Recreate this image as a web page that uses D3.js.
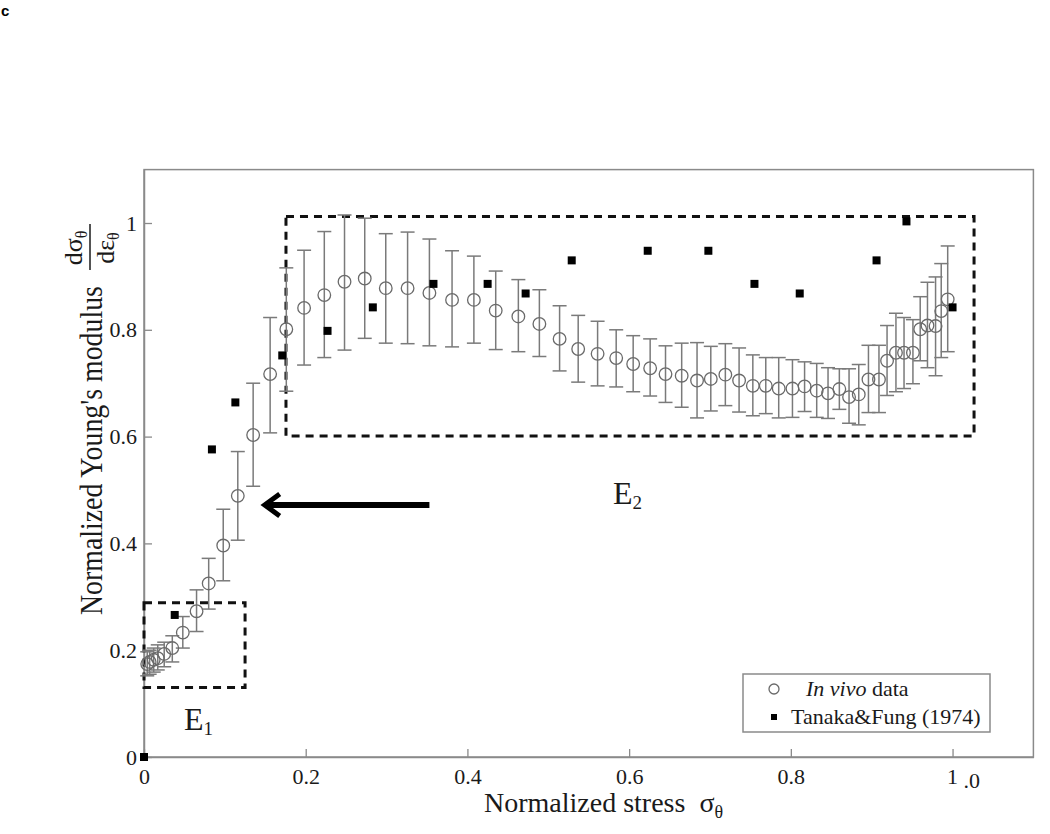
<!DOCTYPE html>
<html>
<head>
<meta charset="utf-8">
<script src="https://cdn.jsdelivr.net/npm/d3@7"></script>
<style>
  html, body { margin: 0; padding: 0; background: #fff; }
  svg { display: block; }
  text { font-family: "Liberation Serif", "Times New Roman", serif; fill: #1a1a1a; }
</style>
</head>
<body>
<svg id="chart" width="1050" height="834"></svg>
<script>
// ---------------- data ----------------
const xInVivo = [0.004, 0.007, 0.012, 0.017, 0.025, 0.035, 0.048, 0.065, 0.080, 0.098,
  0.116, 0.135, 0.156, 0.176, 0.198, 0.223, 0.248, 0.273, 0.299, 0.326,
  0.353, 0.381, 0.408, 0.435, 0.463, 0.489, 0.514, 0.537, 0.561, 0.584,
  0.605, 0.626, 0.645, 0.665, 0.684, 0.701, 0.719, 0.736, 0.753, 0.769,
  0.785, 0.802, 0.817, 0.832, 0.846, 0.860, 0.872, 0.884, 0.896, 0.909,
  0.919, 0.930, 0.940, 0.951, 0.960, 0.969, 0.979, 0.986, 0.994];
const yInVivo = [0.174, 0.178, 0.182, 0.185, 0.193, 0.204, 0.233, 0.273, 0.325, 0.396,
  0.489, 0.603, 0.717, 0.801, 0.841, 0.865, 0.890, 0.896, 0.878, 0.878,
  0.869, 0.856, 0.856, 0.836, 0.825, 0.811, 0.783, 0.764, 0.755, 0.747,
  0.736, 0.728, 0.717, 0.714, 0.705, 0.708, 0.716, 0.705, 0.695, 0.695,
  0.690, 0.690, 0.694, 0.686, 0.681, 0.689, 0.674, 0.679, 0.707, 0.707,
  0.742, 0.757, 0.757, 0.757, 0.801, 0.808, 0.807, 0.835, 0.857];
const yInVivoHigh = [0.197, 0.200, 0.204, 0.210, 0.215, 0.227, 0.263, 0.313, 0.372, 0.464,
  0.572, 0.700, 0.823, 0.916, 0.949, 0.984, 1.015, 1.009, 0.980, 0.983,
  0.970, 0.948, 0.938, 0.910, 0.894, 0.875, 0.845, 0.827, 0.816, 0.800,
  0.789, 0.783, 0.770, 0.775, 0.776, 0.769, 0.774, 0.766, 0.753, 0.748,
  0.748, 0.744, 0.740, 0.737, 0.729, 0.727, 0.727, 0.735, 0.771, 0.771,
  0.808, 0.831, 0.823, 0.819, 0.862, 0.889, 0.899, 0.924, 0.957];
const yInVivoLow = [0.152, 0.155, 0.159, 0.163, 0.169, 0.178, 0.204, 0.235, 0.277, 0.330,
  0.406, 0.507, 0.607, 0.685, 0.734, 0.748, 0.762, 0.784, 0.775, 0.774,
  0.770, 0.768, 0.775, 0.763, 0.759, 0.750, 0.723, 0.702, 0.695, 0.693,
  0.684, 0.676, 0.664, 0.655, 0.635, 0.648, 0.658, 0.646, 0.639, 0.643,
  0.635, 0.636, 0.647, 0.636, 0.634, 0.651, 0.625, 0.622, 0.645, 0.645,
  0.677, 0.684, 0.690, 0.699, 0.742, 0.729, 0.714, 0.748, 0.759];

const xTanaka = [0.000, 0.038, 0.084, 0.113, 0.171, 0.227, 0.283, 0.358, 0.425, 0.472,
  0.529, 0.623, 0.698, 0.755, 0.811, 0.906, 0.943, 1.000];
const yTanaka = [0.000, 0.266, 0.576, 0.664, 0.752, 0.798, 0.842, 0.886, 0.886, 0.868,
  0.930, 0.948, 0.948, 0.886, 0.868, 0.930, 1.003, 0.842];

const xTicks = [0, 0.2, 0.4, 0.6, 0.8, 1.0];
const xTickLabels = ["0", "0.2", "0.4", "0.6", "0.8", "1 .0"];
const yTicks = [0, 0.2, 0.4, 0.6, 0.8, 1.0];
const yTickLabels = ["0", "0.2", "0.4", "0.6", "0.8", "1"];

// dashed regions [x0, x1, y0, y1] in data units
const regionE1 = [0.0, 0.125, 0.130, 0.289];
const regionE2 = [0.1756, 1.0266, 0.601, 1.012];
// annotation anchors in data units
const labelE1 = [0.0495, 0.0506];
const labelE2 = [0.580, 0.4747];
const arrowTail = [0.353, 0.472];
const arrowTip = [0.1468, 0.472];

// ---------------- layout ----------------
const svg = d3.select("#chart");
const padL = 144, padB = 757, padR = 1033.4, padT = 169.6;
const x = d3.scaleLinear().domain([0, 1.1]).range([padL, padR]);
const y = d3.scaleLinear().domain([0, 1.1]).range([padB, padT]);

// panel letter
svg.append("text").attr("x", 1).attr("y", 16)
  .style("font-family", "'Liberation Sans', Arial, sans-serif")
  .style("font-weight", "bold").style("font-size", "15px").style("fill", "#000")
  .text("c");

// frame
svg.append("rect").attr("x", padL).attr("y", padT)
  .attr("width", padR - padL).attr("height", padB - padT)
  .attr("fill", "none").attr("stroke", "#8a8a8a").attr("stroke-width", 1.5);

// axes
const xAxis = d3.axisBottom(x).tickValues(xTicks).tickSize(-8).tickSizeOuter(0)
  .tickPadding(11).tickFormat((d, i) => xTickLabels[i]);
const gx = svg.append("g").attr("transform", `translate(0,${padB})`).call(xAxis);
gx.select(".domain").attr("stroke", "#8a8a8a").attr("stroke-width", 1.5);
gx.selectAll(".tick line").attr("stroke", "#8a8a8a").attr("stroke-width", 1.3);
gx.selectAll(".tick text").style("font-family", "'Liberation Serif', serif")
  .style("font-size", "22px").attr("fill", "#1a1a1a");
gx.selectAll(".tick text").filter((d, i) => i === xTicks.length - 1)
  .attr("text-anchor", "start").attr("dx", "-6")
  .text(null)
  .call(t => { t.append("tspan").text("1"); t.append("tspan").attr("dy", 4).text("\u00a0.0"); });

const yAxis = d3.axisLeft(y).tickValues(yTicks).tickSize(-8).tickSizeOuter(0)
  .tickPadding(7).tickFormat((d, i) => yTickLabels[i]);
const gy = svg.append("g").attr("transform", `translate(${padL},0)`).call(yAxis);
gy.select(".domain").attr("stroke", "#8a8a8a").attr("stroke-width", 1.5);
gy.selectAll(".tick line").attr("stroke", "#8a8a8a").attr("stroke-width", 1.3);
gy.selectAll(".tick text").style("font-family", "'Liberation Serif', serif")
  .style("font-size", "22px").attr("fill", "#1a1a1a");

// axis titles
svg.append("text").attr("x", 484).attr("y", 812)
  .style("font-size", "28px")
  .call(t => {
    t.append("tspan").text("Normalized stress\u00a0\u00a0σ");
    t.append("tspan").attr("dy", 6).style("font-size", "18px").text("θ");
  });

svg.append("text").attr("transform", "translate(102,615) rotate(-90) scale(0.96,1.12)")
  .style("font-size", "29px")
  .text("Normalized Young's modulus");

// fraction dσθ / dεθ
const frac = svg.append("g").attr("transform", "translate(90,248) rotate(-90)");
frac.append("text").attr("x", 0).attr("y", -8).attr("text-anchor", "middle")
  .style("font-size", "26px")
  .call(t => {
    t.append("tspan").text("dσ");
    t.append("tspan").attr("dy", 5).style("font-size", "16px").text("θ");
  });
frac.append("line").attr("x1", -22).attr("x2", 24).attr("y1", 0).attr("y2", 0)
  .attr("stroke", "#1a1a1a").attr("stroke-width", 1.5);
frac.append("text").attr("x", 0).attr("y", 24).attr("text-anchor", "middle")
  .style("font-size", "26px")
  .call(t => {
    t.append("tspan").text("dε");
    t.append("tspan").attr("dy", 5).style("font-size", "16px").text("θ");
  });

// dashed regions
[regionE1, regionE2].forEach(r => {
  svg.append("rect")
    .attr("x", x(r[0])).attr("y", y(r[3]))
    .attr("width", x(r[1]) - x(r[0])).attr("height", y(r[2]) - y(r[3]))
    .attr("fill", "none").attr("stroke", "#111").attr("stroke-width", 3)
    .attr("stroke-dasharray", "8,6");
});

// region labels
svg.append("text").attr("x", x(labelE1[0])).attr("y", y(labelE1[1]))
  .style("font-size", "32px")
  .call(t => { t.append("tspan").text("E"); t.append("tspan").attr("dy", 5).style("font-size", "19px").text("1"); });
svg.append("text").attr("x", x(labelE2[0])).attr("y", y(labelE2[1]))
  .style("font-size", "32px")
  .call(t => { t.append("tspan").text("E"); t.append("tspan").attr("dy", 5).style("font-size", "19px").text("2"); });

// arrow
const ax0 = x(arrowTail[0]), ay = y(arrowTail[1]), ax1 = x(arrowTip[0]);
svg.append("line").attr("x1", ax0).attr("x2", ax1 + 4).attr("y1", ay).attr("y2", ay)
  .attr("stroke", "#000").attr("stroke-width", 6);
svg.append("path")
  .attr("d", `M${ax1 + 17},${ay - 11} L${ax1 + 2},${ay} L${ax1 + 17},${ay + 11}`)
  .attr("fill", "none").attr("stroke", "#000").attr("stroke-width", 5)
  .attr("stroke-linejoin", "miter");

// in vivo error bars
const inVivo = xInVivo.map((xv, i) => ({ x: xv, y: yInVivo[i], hi: yInVivoHigh[i], lo: yInVivoLow[i] }));
const eb = svg.append("g").attr("stroke", "#7a7a7a").attr("stroke-width", 1.5).attr("fill", "none");
const capW = 7;
eb.selectAll("line.v").data(inVivo).join("line").attr("class", "v")
  .attr("x1", d => x(d.x)).attr("x2", d => x(d.x))
  .attr("y1", d => y(d.hi)).attr("y2", d => y(d.lo));
eb.selectAll("line.t").data(inVivo).join("line").attr("class", "t")
  .attr("x1", d => x(d.x) - capW).attr("x2", d => x(d.x) + capW)
  .attr("y1", d => y(d.hi)).attr("y2", d => y(d.hi));
eb.selectAll("line.b").data(inVivo).join("line").attr("class", "b")
  .attr("x1", d => x(d.x) - capW).attr("x2", d => x(d.x) + capW)
  .attr("y1", d => y(d.lo)).attr("y2", d => y(d.lo));

// in vivo circles
svg.append("g").selectAll("circle").data(inVivo).join("circle")
  .attr("cx", d => x(d.x)).attr("cy", d => y(d.y)).attr("r", 6.3)
  .attr("fill", "none").attr("stroke", "#6a6a6a").attr("stroke-width", 1.3);

// Tanaka & Fung squares
const sq = 8;
svg.append("g").selectAll("rect").data(xTanaka.map((xv, i) => ({ x: xv, y: yTanaka[i] })))
  .join("rect")
  .attr("x", d => x(d.x) - sq / 2).attr("y", d => y(d.y) - sq / 2)
  .attr("width", sq).attr("height", sq).attr("fill", "#000");

// legend
const lg = svg.append("g");
lg.append("rect").attr("x", 743).attr("y", 674).attr("width", 247).attr("height", 58)
  .attr("fill", "#fff").attr("stroke", "#8a8a8a").attr("stroke-width", 1.5);
lg.append("circle").attr("cx", 774).attr("cy", 689).attr("r", 5)
  .attr("fill", "none").attr("stroke", "#6a6a6a").attr("stroke-width", 1.3);
lg.append("text").attr("x", 806).attr("y", 696).style("font-size", "22px")
  .call(t => {
    t.append("tspan").style("font-style", "italic").text("In vivo");
    t.append("tspan").text(" data");
  });
lg.append("rect").attr("x", 771).attr("y", 714).attr("width", 6).attr("height", 6).attr("fill", "#000");
lg.append("text").attr("x", 791).attr("y", 724).style("font-size", "22px")
  .text("Tanaka&Fung (1974)");
</script>
</body>
</html>
